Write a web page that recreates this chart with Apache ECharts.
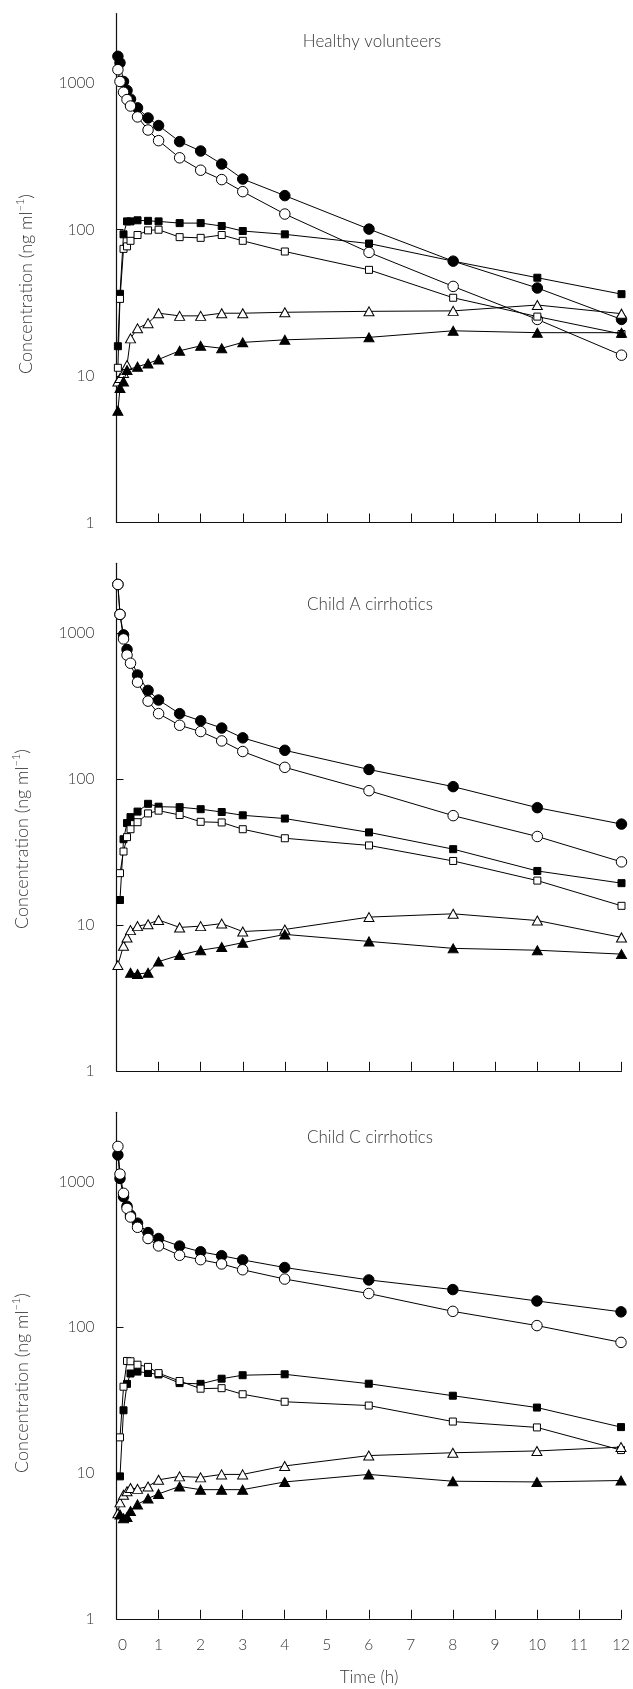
<!DOCTYPE html>
<html>
<head>
<meta charset="utf-8">
<script src="https://cdn.jsdelivr.net/npm/echarts@6/dist/echarts.min.js"></script>
<style>
html,body{margin:0;padding:0;background:#fff;}
#chart{width:633px;height:1689px;}
</style>
</head>
<body>
<div id="chart"></div>
<script>
// ---- data ----
const times = [0.033, 0.083, 0.167, 0.25, 0.333, 0.5, 0.75, 1, 1.5, 2, 2.5, 3, 4, 6, 8, 10, 12];
const xTicks = [0,1,2,3,4,5,6,7,8,9,10,11,12];
const yLabels = [1, 10, 100, 1000];
const panelTitles = ['Healthy volunteers', 'Child A cirrhotics', 'Child C cirrhotics'];

// Healthy volunteers
const hFilledCircle = [1530, 1380, 1030, 895, 780, 680, 580, 515, 400, 345, 281, 222, 171, 101, 61, 40, 24.4];
const hOpenCircle   = [1240, 1030, 870, 775, 700, 590, 480, 406, 310, 255, 220, 182, 128, 70, 41, 24.4, 13.9];
const hFilledSquare = [16, 36.5, 93, 114, 114, 116, 115, 114, 111, 111, 106, 98, 93, 80.5, 61, 47, 36.3];
const hOpenSquare   = [11.4, 33.7, 74, 77, 84, 92, 99, 100, 89, 88, 92, 84, 71, 53.2, 34.3, 25.5, 19.4];
const hOpenTri      = [9.2, 9.7, 10.5, 11.9, 18.1, 21.2, 23, 26.9, 25.8, 25.8, 26.9, 26.9, 27.3, 27.7, 27.9, 30.6, 26.7];
const hFilledTri    = [5.8, 8.3, 9.2, 11.0, null, 11.6, 12.2, 13.0, 14.9, 16.1, 15.5, 17.0, 17.7, 18.4, 20.4, 19.8, 19.8];

// Child A cirrhotics
const aFilledCircle = [2150, 1340, 970, 770, null, 515, 404, 347, 280, 250, 223, 191, 157, 116, 88.5, 63.5, 49];
const aOpenCircle   = [2150, 1340, 910, 705, 620, 460, 341, 280, 233, 211, 182, 154, 120, 83, 56, 40.3, 27];
const aFilledSquare = [null, 14.8, 38.6, 49.8, 54.7, 59.7, 67.5, 64.5, 64, 62, 59.3, 56.3, 53.5, 43, 33, 23.4, 19.3];
const aOpenSquare   = [null, 22.6, 31.8, 39.9, 45.2, 50.5, 58, 60.6, 56.6, 50.8, 50.3, 45.2, 39.2, 35, 27.4, 20.1, 13.5];
const aOpenTri      = [5.3, null, 7.2, 8.2, 9.2, 9.8, 10.1, 10.8, 9.6, 9.8, 10.2, 9.0, 9.3, 11.3, 11.9, 10.7, 8.2];
const aFilledTri    = [null, null, null, null, 4.7, 4.6, 4.7, 5.6, 6.2, 6.7, 7.05, 7.55, 8.6, 7.7, 6.9, 6.7, 6.3];

// Child C cirrhotics
const cFilledCircle = [1530, 1055, 790, 680, 590, 520, 448, 408, 362, 331, 311, 291, 258, 212, 182, 152, 128];
const cOpenCircle   = [1750, 1130, 834, 657, 573, 487, 408, 363, 313, 292, 273, 249, 215, 171, 129, 103, 79];
const cFilledSquare = [null, 9.5, 27, 41, 48.3, 49.8, 48.7, 47.6, 41.5, 41, 44.5, 47, 47.7, 41.1, 34, 28.2, 20.7];
const cOpenSquare   = [null, 17.6, 39.2, 58.9, 58.6, 55.5, 53.6, 48.6, 42.9, 38, 38.3, 34.8, 30.9, 29.1, 22.6, 20.6, 14.4];
const cOpenTri      = [5.3, 6.3, 7.1, 7.5, 7.9, 7.8, 8.1, 9.0, 9.5, 9.35, 9.8, 9.8, 11.2, 13.2, 13.8, 14.2, 15.1];
const cFilledTri    = [null, 5.2, 4.9, 5.0, 5.5, 6.1, 6.7, 7.2, 8.1, 7.7, 7.7, 7.7, 8.7, 9.8, 8.8, 8.7, 8.9];

const panels = [
  [hFilledCircle, hOpenCircle, hFilledSquare, hOpenSquare, hOpenTri, hFilledTri],
  [aFilledCircle, aOpenCircle, aFilledSquare, aOpenSquare, aOpenTri, aFilledTri],
  [cFilledCircle, cOpenCircle, cFilledSquare, cOpenSquare, cOpenTri, cFilledTri]
];

// ---- layout / style ----
const FONT = 'Lato, "Open Sans", sans-serif';
const TXT = '#383838';
const grids = [
  {left: 116.5, width: 505, top: 13.5, height: 509},
  {left: 116.5, width: 505, top: 563.3, height: 507.5},
  {left: 116.5, width: 505, top: 1112.3, height: 506.5}
];
const titlePos = [[372, 42], [370, 605], [370, 1138]];
const yTitlePos = [[26, 284], [22, 839], [22, 1383]];

const markers = [
  {symbol: 'circle', size: 10.5, fill: '#000'},
  {symbol: 'circle', size: 10.5, fill: '#fff'},
  {symbol: 'rect', size: 7, fill: '#000'},
  {symbol: 'rect', size: 7, fill: '#fff'},
  {symbol: 'triangle', size: [10, 9], fill: '#fff'},
  {symbol: 'triangle', size: [10, 9], fill: '#000'}
];

const xAxes = [], yAxes = [], series = [], graphics = [];
grids.forEach((g, i) => {
  xAxes.push({
    type: 'value', gridIndex: i, min: 0, max: 12, interval: 1,
    axisLine: {show: true, lineStyle: {color: '#111', width: 1.2}},
    axisTick: {show: true, inside: true, length: 9, lineStyle: {color: '#111', width: 1}},
    axisLabel: {
      show: i === 2, margin: 18, interval: 0, hideOverlap: false,
      fontFamily: FONT, fontSize: 15.5, fontWeight: 300, color: TXT,
      formatter: v => v === 0 ? '{z|0}' : String(v),
      rich: {z: {fontFamily: FONT, fontSize: 15.5, fontWeight: 300, color: TXT, padding: [0, 0, 0, 12]}}
    },
    splitLine: {show: false}
  });
  yAxes.push({
    type: 'log', logBase: 10, gridIndex: i, min: 1, max: 3000,
    axisLine: {show: true, lineStyle: {color: '#111', width: 1.2}},
    axisTick: {show: true, inside: true, length: 7, customValues: [10, 100, 1000], lineStyle: {color: '#111', width: 1}},
    axisLabel: {
      show: true, margin: 22, customValues: yLabels,
      fontFamily: FONT, fontSize: 15.5, fontWeight: 300, color: TXT,
      formatter: v => String(Math.round(v))
    },
    splitLine: {show: false},
    minorTick: {show: false}
  });
  panels[i].forEach((vals, k) => {
    const m = markers[k];
    series.push({
      type: 'line', xAxisIndex: i, yAxisIndex: i,
      data: times.map((t, j) => [t, vals[j]]),
      connectNulls: true, clip: false,
      symbol: m.symbol, symbolSize: m.size, showAllSymbol: true,
      lineStyle: {color: '#000', width: 1},
      itemStyle: {color: m.fill, borderColor: '#000', borderWidth: 1},
      emphasis: {disabled: true},
      animation: false, z: 2 + k
    });
  });
  graphics.push({
    type: 'text', x: titlePos[i][0], y: titlePos[i][1],
    style: {text: panelTitles[i], fontFamily: FONT, fontSize: 17, fontWeight: 300, fill: TXT, align: 'center', verticalAlign: 'middle'}
  });
  graphics.push({
    type: 'text', x: yTitlePos[i][0], y: yTitlePos[i][1], rotation: Math.PI / 2,
    style: {
      text: '{a|Concentration (ng ml}{b|−1}{a|)}',
      align: 'center', verticalAlign: 'middle',
      rich: {
        a: {fontFamily: FONT, fontSize: 18, fontWeight: 300, fill: TXT, color: TXT, lineHeight: 22},
        b: {fontFamily: FONT, fontSize: 11, fontWeight: 300, fill: TXT, color: TXT, lineHeight: 11, verticalAlign: 'top'}
      }
    }
  });
});
graphics.push({
  type: 'text', x: 369, y: 1678,
  style: {text: 'Time (h)', fontFamily: FONT, fontSize: 17, fontWeight: 300, fill: TXT, align: 'center', verticalAlign: 'middle'}
});

const chart = echarts.init(document.getElementById('chart'), null, {renderer: 'canvas'});
chart.setOption({
  animation: false,
  backgroundColor: '#fff',
  grid: grids,
  xAxis: xAxes,
  yAxis: yAxes,
  series: series,
  graphic: graphics
});
</script>
</body>
</html>
